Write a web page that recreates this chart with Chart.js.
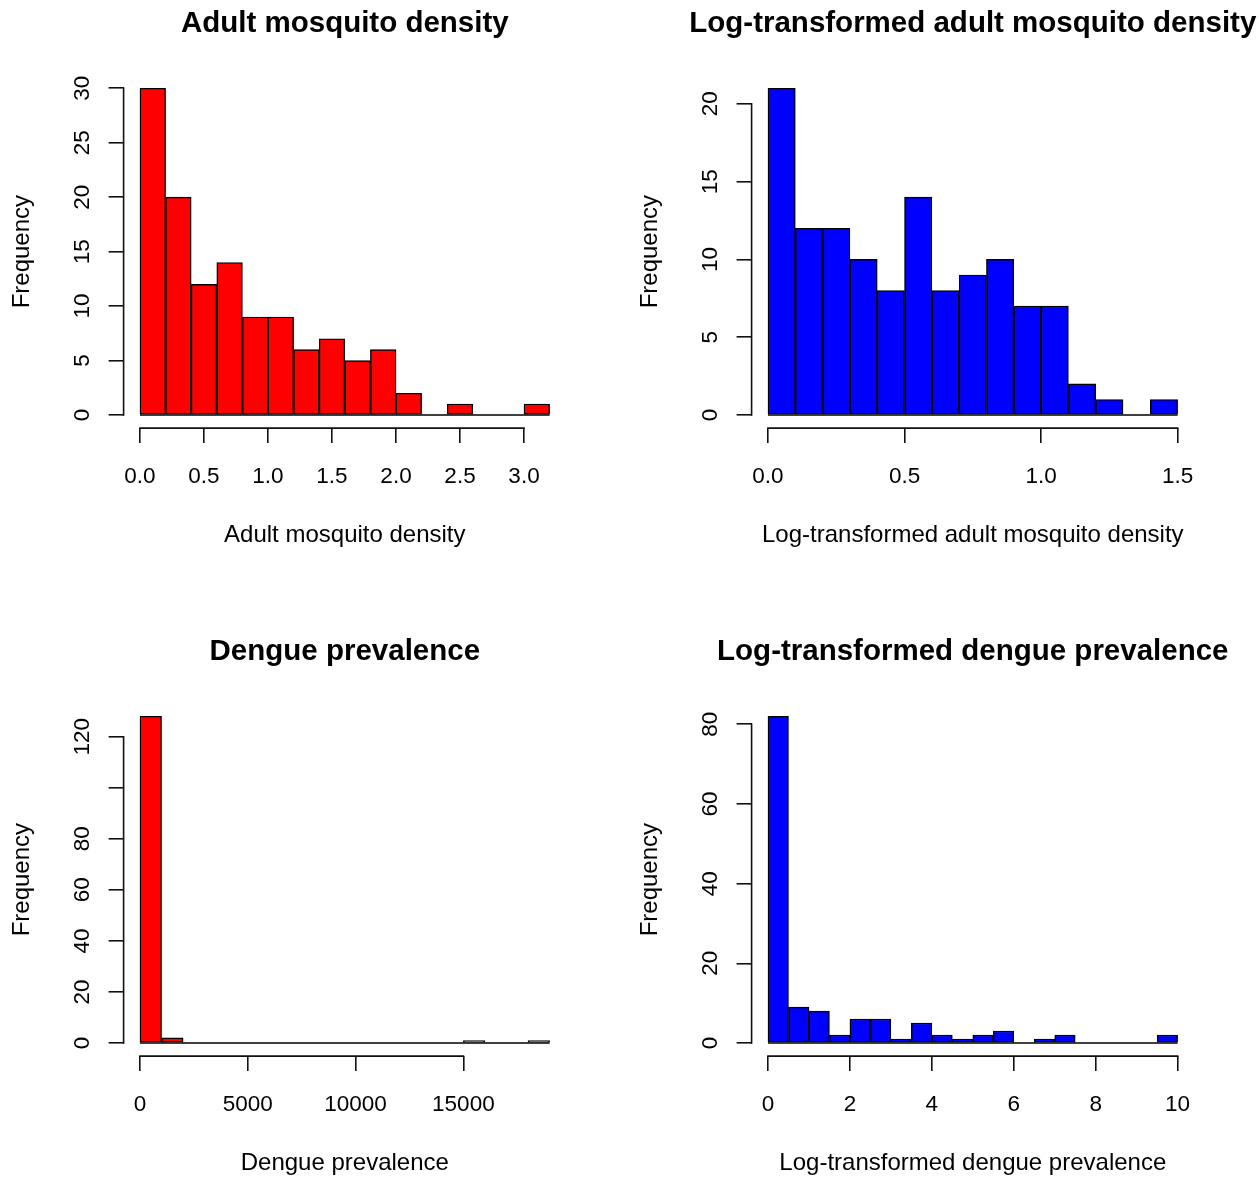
<!DOCTYPE html>
<html>
<head>
<meta charset="utf-8">
<script src="https://cdn.jsdelivr.net/npm/chart.js@4.4.1/dist/chart.umd.min.js"></script>
<style>
  html, body { margin: 0; padding: 0; background: #ffffff; }
  #page { position: relative; width: 1259px; height: 1180px; overflow: hidden; background: #ffffff; }
  #page canvas { position: absolute; }
</style>
</head>
<body>
<div id="page">
  <canvas id="pDensity" width="628" height="628" style="left:0px;top:0px"></canvas>
  <canvas id="pLogDensity" width="631" height="628" style="left:628px;top:0px"></canvas>
  <canvas id="pDengue" width="628" height="552" style="left:0px;top:628px"></canvas>
  <canvas id="pLogDengue" width="631" height="552" style="left:628px;top:628px"></canvas>
</div>
<script>
// ---- Histogram counts (one value per bin) ----
// Adult mosquito density, bins of width 0.2 starting at 0
const densityBinStart = 0;
const densityBinWidth = 0.2;
const densityCounts = [30, 20, 12, 14, 9, 9, 6, 7, 5, 6, 2, 0, 1, 0, 0, 1];
const densityXTicks = [0, 0.5, 1, 1.5, 2, 2.5, 3];
const densityXLabels = ['0.0', '0.5', '1.0', '1.5', '2.0', '2.5', '3.0'];
const densityYTicks = [0, 5, 10, 15, 20, 25, 30];
const densityYLabels = ['0', '5', '10', '15', '20', '25', '30'];

// Log-transformed adult mosquito density, bins of width 0.1
const logDensityBinStart = 0;
const logDensityBinWidth = 0.1;
const logDensityCounts = [21, 12, 12, 10, 8, 14, 8, 9, 10, 7, 7, 2, 1, 0, 1];
const logDensityXTicks = [0, 0.5, 1, 1.5];
const logDensityXLabels = ['0.0', '0.5', '1.0', '1.5'];
const logDensityYTicks = [0, 5, 10, 15, 20];
const logDensityYLabels = ['0', '5', '10', '15', '20'];

// Dengue prevalence, bins of width 1000
const dengueBinStart = 0;
const dengueBinWidth = 1000;
const dengueCounts = [128, 2, 0, 0, 0, 0, 0, 0, 0, 0, 0, 0, 0, 0, 0, 1, 0, 0, 1];
const dengueXTicks = [0, 5000, 10000, 15000];
const dengueXLabels = ['0', '5000', '10000', '15000'];
const dengueYTicks = [0, 20, 40, 60, 80, 100, 120];
const dengueYLabels = ['0', '20', '40', '60', '80', '', '120'];

// Log-transformed dengue prevalence, bins of width 0.5
const logDengueBinStart = 0;
const logDengueBinWidth = 0.5;
const logDengueCounts = [82, 9, 8, 2, 6, 6, 1, 5, 2, 1, 2, 3, 0, 1, 2, 0, 0, 0, 0, 2];
const logDengueXTicks = [0, 2, 4, 6, 8, 10];
const logDengueXLabels = ['0', '2', '4', '6', '8', '10'];
const logDengueYTicks = [0, 20, 40, 60, 80];
const logDengueYLabels = ['0', '20', '40', '60', '80'];

// ---- Panel geometry (panel-local pixels) ----
const PLOT_LEFT = 123.6;
const PLOT_TOP = 75.2;
const PLOT_RIGHT = 566;
const PLOT_BOTTOM = 428.1;
const X_SCALE_H = 20;
const TICK_LEN = 15;

const FONT = '"Liberation Sans", Arial, Helvetica, sans-serif';
const TEXT_COLOR = '#000000';
const AXIS_COLOR = '#111111';
const AXIS_LW = 1.6;
const BAR_BORDER = 1.4;
const TICK_SIZE = 22.5;
const LAB_SIZE = 24;
const MAIN_SIZE = 29.5;
const TITLE_BASE = 31.7;
const X_TICK_BASE = 482.6;
const X_TITLE_BASE = 542.3;
const Y_TICK_BASE = 88.5;
const Y_TITLE_BASE = 29;

// Axis lines spanning first..last tick, plus titles and tick labels in base-graphics style
function makeTextPlugin(cfg) {
  return {
    id: 'baseGraphicsText',
    afterDraw(chart) {
      const { ctx, chartArea: a } = chart;
      const x = chart.scales.x, y = chart.scales.y;
      ctx.save();
      ctx.strokeStyle = AXIS_COLOR;
      ctx.lineWidth = AXIS_LW;
      ctx.lineCap = 'square';
      ctx.beginPath();
      ctx.moveTo(x.getPixelForValue(cfg.xTicks[0]), a.bottom);
      ctx.lineTo(x.getPixelForValue(cfg.xTicks[cfg.xTicks.length - 1]), a.bottom);
      ctx.moveTo(a.left, y.getPixelForValue(cfg.yTicks[0]));
      ctx.lineTo(a.left, y.getPixelForValue(cfg.yTicks[cfg.yTicks.length - 1]));
      ctx.stroke();

      ctx.fillStyle = TEXT_COLOR;
      ctx.textAlign = 'center';
      ctx.textBaseline = 'alphabetic';
      ctx.font = TICK_SIZE + 'px ' + FONT;
      cfg.xTicks.forEach((v, i) => {
        ctx.fillText(cfg.xLabels[i], x.getPixelForValue(v), X_TICK_BASE);
      });
      cfg.yTicks.forEach((v, i) => {
        if (!cfg.yLabels[i]) return;
        ctx.save();
        ctx.translate(Y_TICK_BASE, y.getPixelForValue(v));
        ctx.rotate(-Math.PI / 2);
        ctx.fillText(cfg.yLabels[i], 0, 0);
        ctx.restore();
      });

      const cx = (a.left + a.right) / 2;
      ctx.font = 'bold ' + MAIN_SIZE + 'px ' + FONT;
      ctx.fillText(cfg.title, cx, TITLE_BASE);
      ctx.font = LAB_SIZE + 'px ' + FONT;
      ctx.fillText(cfg.xTitle, cx, X_TITLE_BASE);
      ctx.save();
      ctx.translate(Y_TITLE_BASE, (a.top + a.bottom) / 2);
      ctx.rotate(-Math.PI / 2);
      ctx.fillText('Frequency', 0, 0);
      ctx.restore();
      ctx.restore();
    }
  };
}

function makeHistogram(canvasId, cfg) {
  const canvas = document.getElementById(canvasId);
  const nBins = cfg.counts.length;
  const binEnd = cfg.binStart + nBins * cfg.binWidth;
  const xSpan = binEnd - cfg.binStart;
  const yMax = Math.max(...cfg.counts);
  const bars = cfg.counts.map((c, i) => ({ x: cfg.binStart + (i + 0.5) * cfg.binWidth, y: c }));
  const baseline = [{ x: cfg.binStart, y: 0 }, { x: binEnd, y: 0 }];

  const gridOpts = {
    display: true,
    offset: false,
    drawOnChartArea: false,
    drawTicks: true,
    tickLength: TICK_LEN,
    color: AXIS_COLOR,
    lineWidth: AXIS_LW
  };

  return new Chart(canvas, {
    type: 'bar',
    data: {
      datasets: [
        {
          type: 'bar',
          data: bars,
          backgroundColor: cfg.color,
          borderColor: '#000000',
          borderWidth: BAR_BORDER,
          borderSkipped: false,
          barPercentage: 1,
          categoryPercentage: 1
        },
        {
          type: 'line',
          data: baseline,
          borderColor: '#000000',
          borderWidth: 1.5,
          pointRadius: 0,
          fill: false
        }
      ]
    },
    options: {
      responsive: false,
      animation: false,
      devicePixelRatio: 1,
      layout: {
        padding: {
          left: 0,
          top: PLOT_TOP,
          right: canvas.width - PLOT_RIGHT,
          bottom: canvas.height - PLOT_BOTTOM - X_SCALE_H
        }
      },
      plugins: {
        legend: { display: false },
        tooltip: { enabled: false },
        title: { display: false }
      },
      scales: {
        x: {
          type: 'linear',
          position: 'bottom',
          offset: false,
          bounds: 'data',
          min: cfg.binStart - 0.04 * xSpan,
          max: binEnd + 0.04 * xSpan,
          ticks: { display: false },
          grid: gridOpts,
          border: { display: false },
          afterBuildTicks: s => { s.ticks = cfg.xTicks.map(v => ({ value: v })); },
          afterFit: s => { s.height = X_SCALE_H; }
        },
        y: {
          type: 'linear',
          position: 'left',
          offset: false,
          bounds: 'data',
          min: -0.04 * yMax,
          max: 1.04 * yMax,
          ticks: { display: false },
          grid: gridOpts,
          border: { display: false },
          afterBuildTicks: s => { s.ticks = cfg.yTicks.map(v => ({ value: v })); },
          afterFit: s => { s.width = PLOT_LEFT; }
        }
      }
    },
    plugins: [makeTextPlugin(cfg)]
  });
}

makeHistogram('pDensity', {
  title: 'Adult mosquito density',
  xTitle: 'Adult mosquito density',
  color: '#ff0000',
  binStart: densityBinStart, binWidth: densityBinWidth, counts: densityCounts,
  xTicks: densityXTicks, xLabels: densityXLabels,
  yTicks: densityYTicks, yLabels: densityYLabels
});

makeHistogram('pLogDensity', {
  title: 'Log-transformed adult mosquito density',
  xTitle: 'Log-transformed adult mosquito density',
  color: '#0000ff',
  binStart: logDensityBinStart, binWidth: logDensityBinWidth, counts: logDensityCounts,
  xTicks: logDensityXTicks, xLabels: logDensityXLabels,
  yTicks: logDensityYTicks, yLabels: logDensityYLabels
});

makeHistogram('pDengue', {
  title: 'Dengue prevalence',
  xTitle: 'Dengue prevalence',
  color: '#ff0000',
  binStart: dengueBinStart, binWidth: dengueBinWidth, counts: dengueCounts,
  xTicks: dengueXTicks, xLabels: dengueXLabels,
  yTicks: dengueYTicks, yLabels: dengueYLabels
});

makeHistogram('pLogDengue', {
  title: 'Log-transformed dengue prevalence',
  xTitle: 'Log-transformed dengue prevalence',
  color: '#0000ff',
  binStart: logDengueBinStart, binWidth: logDengueBinWidth, counts: logDengueCounts,
  xTicks: logDengueXTicks, xLabels: logDengueXLabels,
  yTicks: logDengueYTicks, yLabels: logDengueYLabels
});
</script>
</body>
</html>
